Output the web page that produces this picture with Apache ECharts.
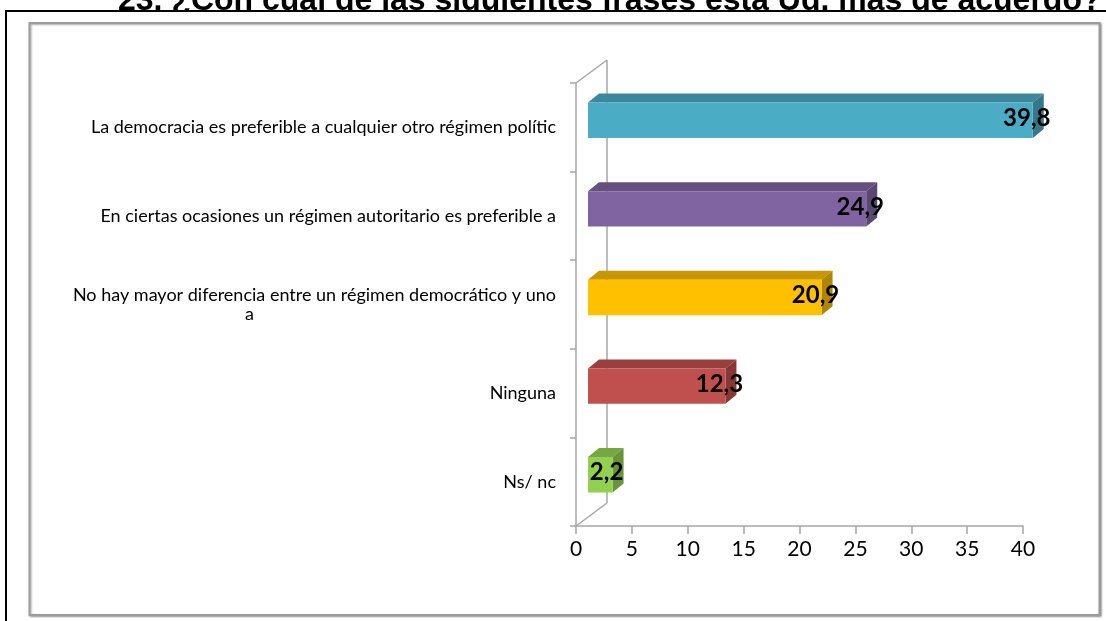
<!DOCTYPE html>
<html>
<head>
<meta charset="utf-8">
<script src="https://cdn.jsdelivr.net/npm/echarts@6/dist/echarts.min.js"></script>
<style>
    html, body { margin: 0; padding: 0; background: #fff; }
    #chart { width: 1106px; height: 621px; }
</style>
</head>
<body>
<div id="chart"></div>
<script>
// datos del gráfico
const categories = [
    'La democracia es preferible a cualquier otro régimen polític',
    'En ciertas ocasiones un régimen autoritario es preferible a',
    'No hay mayor diferencia entre un régimen democrático y uno\na',
    'Ninguna',
    'Ns/ nc'
];
const values = [39.8, 24.9, 20.9, 12.3, 2.2];
const valueLabels = ['39,8', '24,9', '20,9', '12,3', '2,2'];
const xTicks = [0, 5, 10, 15, 20, 25, 30, 35, 40];

// colores de cada barra: frente, tapa, lateral
const FRONT = ['#4BACC6', '#8064A2', '#FFC000', '#C0504D', '#92D050'];
const TOP = ['#3C879B', '#66507F', '#C79600', '#9A3F3D', '#74A840'];
const SIDE = ['#357889', '#5A4772', '#B08500', '#883735', '#679537'];

const FONT = 'Lato, "Open Sans", sans-serif';
const AXIS_COLOR = '#A6A6A6';
// desplazamientos de la perspectiva 3D
const WALL = [31, -23];
const BAR_FRONT = [12, -7];
const BAR_DEPTH = [11, -9];

const chart = echarts.init(document.getElementById('chart'));

function renderBar(params, api) {
    const i = api.value(1);
    const start = api.coord([0, i]);
    const end = api.coord([api.value(0), i]);
    const h = api.size([0, 1])[1] * 0.4;
    const x0 = start[0] + BAR_FRONT[0];
    const x1 = end[0] + BAR_FRONT[0];
    const yT = start[1] + BAR_FRONT[1] - h / 2;
    const yB = yT + h;
    const dx = BAR_DEPTH[0];
    const dy = BAR_DEPTH[1];
    return {
        type: 'group',
        children: [
            {
                type: 'polygon',
                shape: { points: [[x0, yT], [x1, yT], [x1 + dx, yT + dy], [x0 + dx, yT + dy]] },
                style: { fill: TOP[i] }
            },
            {
                type: 'polygon',
                shape: { points: [[x1, yT], [x1 + dx, yT + dy], [x1 + dx, yB + dy], [x1, yB]] },
                style: { fill: SIDE[i] }
            },
            {
                type: 'rect',
                shape: { x: x0, y: yT, width: x1 - x0, height: h },
                style: { fill: FRONT[i] }
            },
            {
                type: 'text',
                style: {
                    text: valueLabels[i],
                    x: x1 - 6,
                    y: yT + h / 2 - 2,
                    align: 'center',
                    verticalAlign: 'middle',
                    font: 'bold 24px ' + FONT,
                    fill: '#000'
                }
            }
        ]
    };
}

// paredes del marco 3D (solo lineas)
function renderWall(params, api) {
    const cs = params.coordSys;
    const line = (a, b) => ({
        type: 'line',
        shape: { x1: a[0], y1: a[1], x2: b[0], y2: b[1] },
        style: { stroke: AXIS_COLOR, lineWidth: 1.5 }
    });
    const bx = cs.x + WALL[0];
    return {
        type: 'group',
        children: [
            line([cs.x, cs.y], [bx, cs.y + WALL[1]]),
            line([bx, cs.y + WALL[1]], [bx, cs.y + cs.height + WALL[1]]),
            line([cs.x, cs.y + cs.height], [bx, cs.y + cs.height + WALL[1]])
        ]
    };
}

chart.setOption({
    animation: false,
    backgroundColor: '#fff',
    graphic: {
        elements: [
            {
                type: 'text',
                z: 0,
                style: {
                    text: '23. ¿Con cuál de las siguientes frases está Ud. más de acuerdo?',
                    x: 118,
                    y: 17,
                    verticalAlign: 'bottom',
                    font: 'bold 32px "Liberation Sans", Arial, sans-serif',
                    fill: '#000'
                }
            },
            {
                type: 'rect',
                z: 1,
                shape: { x: 6, y: 11, width: 1130, height: 640 },
                style: { fill: '#fff', stroke: '#000', lineWidth: 2 }
            },
            {
                type: 'rect',
                z: 1,
                shape: { x: 29.5, y: 23, width: 1070, height: 592 },
                style: {
                    fill: '#fff',
                    stroke: '#9C9C9C',
                    lineWidth: 2,
                    shadowColor: 'rgba(0,0,0,0.35)',
                    shadowBlur: 2,
                    shadowOffsetX: 1,
                    shadowOffsetY: 1
                }
            }
        ]
    },
    grid: {
        left: 576,
        top: 83,
        width: 447,
        height: 443
    },
    xAxis: {
        type: 'value',
        z: 5,
        min: 0,
        max: 40,
        interval: 5,
        axisLine: { show: true, lineStyle: { color: AXIS_COLOR, width: 1.5 } },
        axisTick: { show: true, length: 8, lineStyle: { color: AXIS_COLOR, width: 1.5 } },
        splitLine: { show: false },
        axisLabel: {
            margin: 13,
            color: '#000',
            fontFamily: FONT,
            fontSize: 21,
            formatter: v => (xTicks.indexOf(v) >= 0 ? String(v) : '')
        }
    },
    yAxis: {
        type: 'category',
        z: 5,
        inverse: true,
        data: categories,
        axisLine: { show: true, lineStyle: { color: AXIS_COLOR, width: 1.5 } },
        axisTick: { show: true, length: 6, lineStyle: { color: AXIS_COLOR, width: 1.5 } },
        axisLabel: {
            margin: 20,
            color: '#000',
            fontFamily: FONT,
            fontSize: 18,
            lineHeight: 19,
            formatter: v => {
                const parts = v.split('\n');
                if (parts.length === 1) return v;
                return '{l|' + parts[0] + '}\n{c|' + parts[1] + '}';
            },
            rich: {
                l: { fontFamily: FONT, fontSize: 18, lineHeight: 19, color: '#000' },
                c: {
                    fontFamily: FONT, fontSize: 18, lineHeight: 19, color: '#000',
                    align: 'left', padding: [0, 0, 0, 172]
                }
            }
        }
    },
    series: [
        {
            type: 'custom',
            z: 3,
            silent: true,
            renderItem: renderWall,
            data: [[0, 0]],
            encode: { x: 0, y: 1 }
        },
        {
            type: 'custom',
            z: 4,
            renderItem: renderBar,
            data: values.map((v, i) => [v, i]),
            encode: { x: 0, y: 1 }
        }
    ]
});
</script>
</body>
</html>
